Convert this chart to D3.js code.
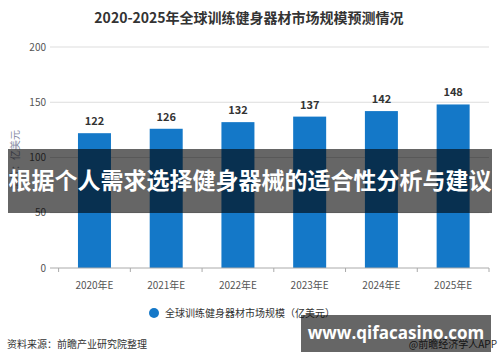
<!DOCTYPE html>
<html>
<head>
<meta charset="utf-8">
<script src="https://cdn.jsdelivr.net/npm/d3@7"></script>
<style>
  body { margin: 0; background: #fff; }
  svg { display: block; font-family: "Noto Sans CJK SC", "Noto Sans", sans-serif; }
</style>
</head>
<body>
<svg id="chart" width="500" height="362"></svg>
<script>
// data
const years = ["2020年E", "2021年E", "2022年E", "2023年E", "2024年E", "2025年E"];
const marketSize = [122, 126, 132, 137, 142, 148];
const yTicks = [0, 50, 100, 150, 200];

const svg = d3.select("#chart");

const x = d3.scaleBand()
    .domain(years)
    .range([58.6, 489])
    .paddingInner(0.54)
    .paddingOuter(0.27);

const y = d3.scaleLinear()
    .domain([0, 200])
    .range([268, 47]);

// title
svg.append("text")
    .attr("x", 249).attr("y", 23)
    .attr("text-anchor", "middle")
    .attr("font-size", 14).attr("font-weight", "bold")
    .attr("fill", "#333")
    .text("2020-2025年全球训练健身器材市场规模预测情况");

// gridlines
svg.append("g").selectAll("line")
    .data(yTicks.filter(d => d > 0))
    .enter().append("line")
    .attr("x1", 50).attr("x2", 489)
    .attr("y1", d => y(d)).attr("y2", d => y(d))
    .attr("stroke", "#ddd").attr("stroke-width", 1);

// y axis labels
svg.append("g").selectAll("text")
    .data(yTicks)
    .enter().append("text")
    .attr("x", 46).attr("y", d => y(d))
    .attr("dy", "0.35em")
    .attr("text-anchor", "end")
    .attr("font-size", 10).attr("fill", "#555")
    .text(d => d);

// y axis title
svg.append("text")
    .attr("transform", "translate(19,160) rotate(-90)")
    .attr("text-anchor", "middle")
    .attr("font-size", 10).attr("fill", "#8a8fa6")
    .text("单位：亿美元");

// bars
svg.append("g").selectAll("rect")
    .data(marketSize)
    .enter().append("rect")
    .attr("x", (d, i) => x(years[i]))
    .attr("y", d => y(d))
    .attr("width", x.bandwidth())
    .attr("height", d => y(0) - y(d))
    .attr("fill", "#1478c8");

// value labels
svg.append("g").selectAll("text")
    .data(marketSize)
    .enter().append("text")
    .attr("x", (d, i) => x(years[i]) + x.bandwidth() / 2)
    .attr("y", d => y(d) - 8)
    .attr("text-anchor", "middle")
    .attr("font-size", 11).attr("font-weight", "bold")
    .attr("fill", "#333")
    .text(d => d);

// x axis
const xAxis = svg.append("g")
    .attr("transform", `translate(0,${y(0)})`)
    .call(d3.axisBottom(x).tickSize(0).tickPadding(14));
xAxis.select(".domain").remove();
xAxis.selectAll("text").attr("font-size", 10).attr("fill", "#555")
    .attr("font-family", "\"Noto Sans CJK SC\", sans-serif");
svg.append("line")
    .attr("x1", 50).attr("x2", 489)
    .attr("y1", y(0)).attr("y2", y(0))
    .attr("stroke", "#aaa");
const step = x.step();
svg.append("g").selectAll("line")
    .data(d3.range(years.length + 1))
    .enter().append("line")
    .attr("x1", i => 58.6 + i * step).attr("x2", i => 58.6 + i * step)
    .attr("y1", y(0)).attr("y2", y(0) + 4)
    .attr("stroke", "#aaa");

// legend
svg.append("circle")
    .attr("cx", 154).attr("cy", 313).attr("r", 5)
    .attr("fill", "#1478c8");
svg.append("text")
    .attr("x", 165).attr("y", 313).attr("dy", "0.35em")
    .attr("font-size", 10).attr("fill", "#333")
    .text("全球训练健身器材市场规模（亿美元）");

// source
svg.append("text")
    .attr("x", 7).attr("y", 344).attr("dy", "0.35em")
    .attr("font-size", 10).attr("fill", "#333")
    .text("资料来源：前瞻产业研究院整理");
svg.append("text")
    .attr("x", 497).attr("y", 344).attr("dy", "0.35em")
    .attr("text-anchor", "end")
    .attr("font-size", 10).attr("fill", "#333")
    .text("@前瞻经济学人APP");

// overlay banner
svg.append("rect")
    .attr("x", 8).attr("y", 149).attr("width", 484).attr("height", 64)
    .attr("fill", "#000").attr("opacity", 0.6);
svg.append("text")
    .attr("x", 250).attr("y", 181).attr("dy", "0.35em")
    .attr("text-anchor", "middle")
    .attr("font-size", 23).attr("font-weight", "bold")
    .attr("fill", "#fff")
    .text("根据个人需求选择健身器械的适合性分析与建议");

// site watermark
svg.append("rect")
    .attr("x", 301).attr("y", 315).attr("width", 190).attr("height", 37)
    .attr("fill", "#000").attr("opacity", 0.6);
svg.append("text")
    .attr("x", 396).attr("y", 333).attr("dy", "0.35em")
    .attr("text-anchor", "middle")
    .attr("font-size", 17).attr("font-weight", "bold")
    .attr("font-family", "\"Open Sans\", sans-serif")
    .attr("fill", "#fff")
    .text("www.qifacasino.com");
</script>
</body>
</html>
